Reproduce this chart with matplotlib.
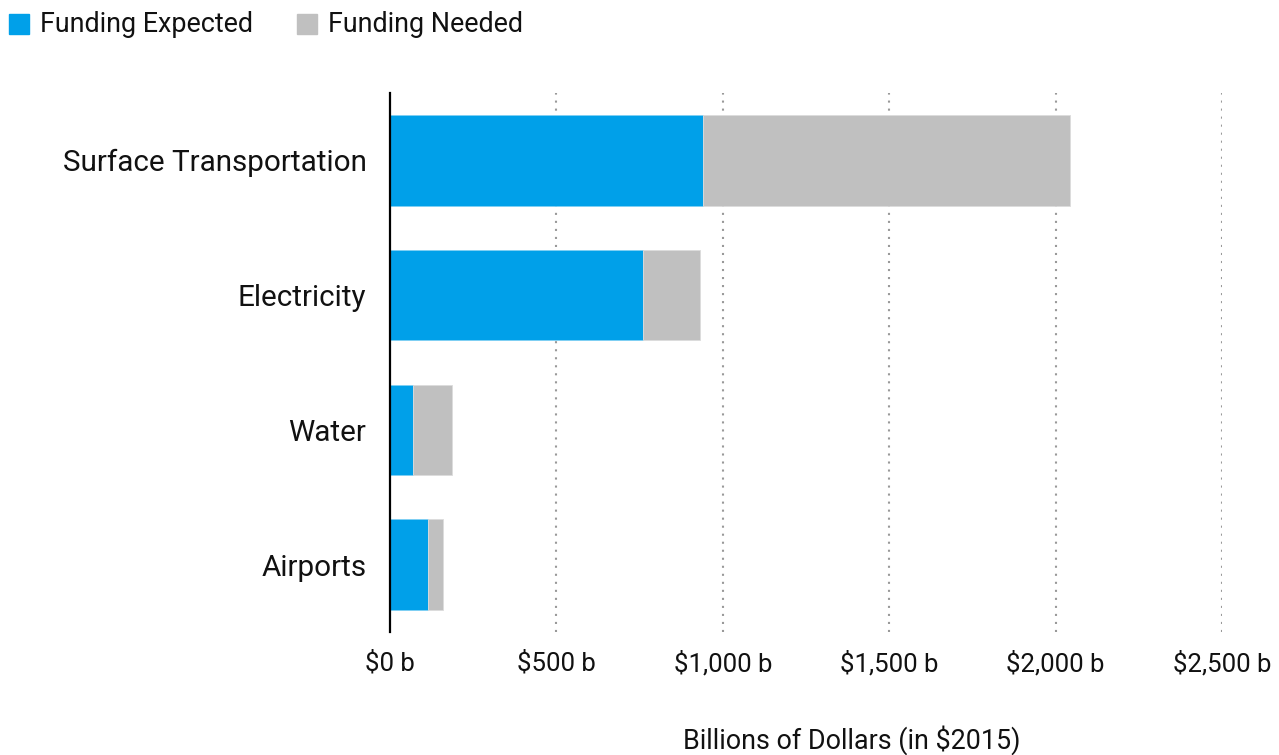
import matplotlib.pyplot as plt
from matplotlib import font_manager

categories = ["Surface Transportation", "Electricity", "Water", "Airports"]
expected = [940, 760, 69, 114]
total = [2042, 931, 186, 159]
needed = [t - e for t, e in zip(total, expected)]
xticks = [0, 500, 1000, 1500, 2000, 2500]
xticklabels = ["$0 b", "$500 b", "$1,000 b", "$1,500 b", "$2,000 b", "$2,500 b"]

blue = "#00a0e9"
grey = "#c0c0c0"

names = {f.name for f in font_manager.fontManager.ttflist}
narrow = "Liberation Sans Narrow" if "Liberation Sans Narrow" in names else "Roboto"

plt.rcParams['font.family'] = ['Roboto', 'DejaVu Sans']

fig = plt.figure(figsize=(12.79, 7.55), dpi=100)
ax = fig.add_axes([390/1279, 1 - 632/755, (1222-390)/1279, (632-93)/755])

y = list(range(len(categories)))
ax.barh(y, expected, height=0.67, color=blue, edgecolor="#7fd0f4", linewidth=0.6, zorder=3)
ax.barh(y, needed, left=expected, height=0.67, color=grey, edgecolor="#dcdcdc", linewidth=0.6, zorder=3)

ax.set_ylim(3.5, -0.5)
ax.set_xlim(0, 2500)
ax.set_yticks(y)
ax.set_yticklabels(categories, fontsize=21.3, color="#111111")
ax.set_xticks(xticks)
ax.set_xticklabels(xticklabels, fontsize=18.5, family=[narrow, 'Roboto'], color="#111111")
ax.tick_params(length=0)
ax.tick_params(axis='y', pad=17)
ax.tick_params(axis='x', pad=14)

for s in ["top", "right", "bottom"]:
    ax.spines[s].set_visible(False)
ax.spines["left"].set_linewidth(1.6)
ax.spines["left"].set_color("black")
ax.spines["left"].set_zorder(4)

for xv in xticks[1:]:
    ax.axvline(xv, color="#999999", linewidth=1.5, linestyle=(0, (1, 2.85)), zorder=1)

fig.text(852/1279, 1 - 740/755, "Billions of Dollars (in $2015)", ha="center", va="center",
         fontsize=19.4, color="#111111")

# legend
fig.patches.append(plt.Rectangle((9/1279, 1 - 34/755), 20/1279, 20/755, color=blue,
                                 transform=fig.transFigure, figure=fig))
fig.text(40/1279, 1 - 24/755, "Funding Expected", ha="left", va="center", fontsize=19.4, color="#111111")
fig.patches.append(plt.Rectangle((297/1279, 1 - 34/755), 20/1279, 20/755, color=grey,
                                 transform=fig.transFigure, figure=fig))
fig.text(328/1279, 1 - 24/755, "Funding Needed", ha="left", va="center", fontsize=19.4, color="#111111")

fig.savefig("out.png", dpi=100)
